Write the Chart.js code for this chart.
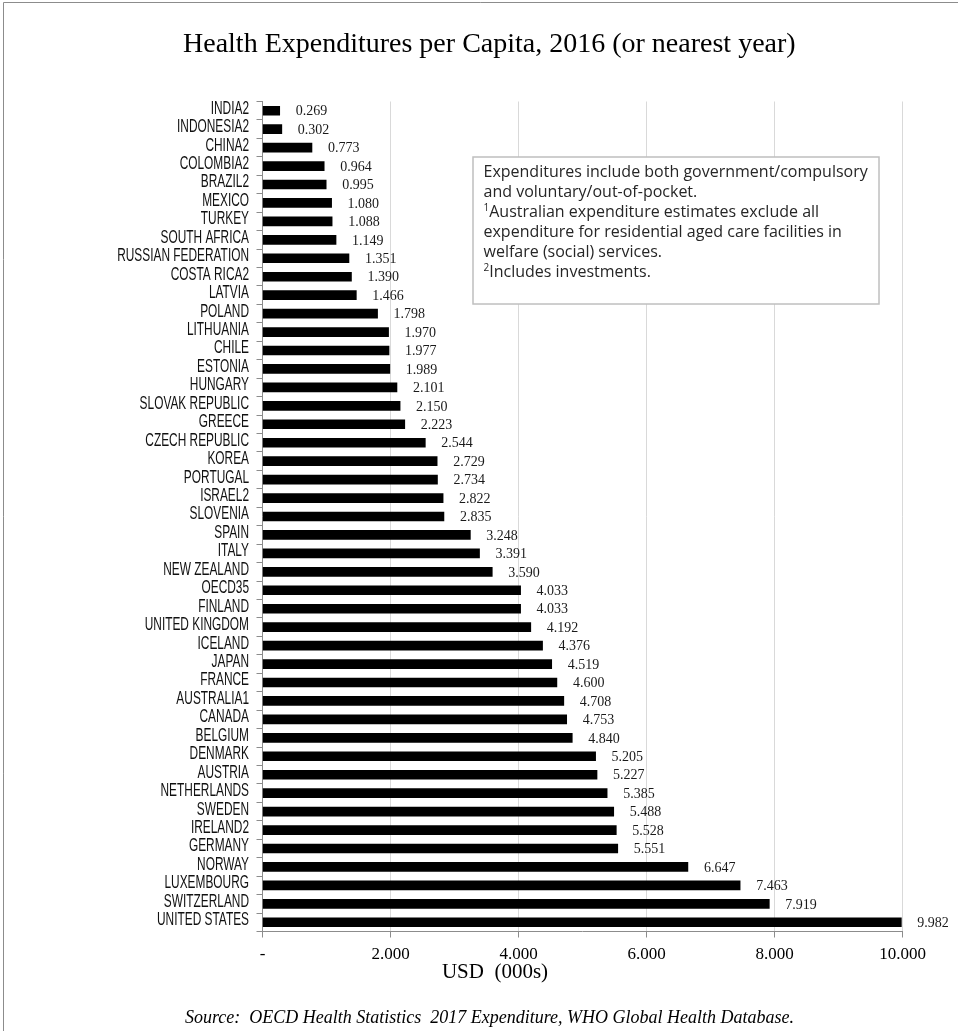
<!DOCTYPE html>
<html>
<head>
<meta charset="utf-8">
<title>Health Expenditures per Capita, 2016</title>
<script src="https://cdn.jsdelivr.net/npm/chart.js@4.4.1/dist/chart.umd.min.js"></script>
<style>
  html, body { margin: 0; padding: 0; background: #fff; }
  #wrap { width: 958px; height: 1031px; position: relative; }
</style>
</head>
<body>
<div id="wrap"><canvas id="myChart" width="958" height="1031"></canvas></div>
<script>
// countries, top to bottom
var countries = [
    "INDIA2", "INDONESIA2", "CHINA2", "COLOMBIA2", "BRAZIL2", "MEXICO", "TURKEY",
    "SOUTH AFRICA", "RUSSIAN FEDERATION", "COSTA RICA2", "LATVIA", "POLAND",
    "LITHUANIA", "CHILE", "ESTONIA", "HUNGARY", "SLOVAK REPUBLIC", "GREECE",
    "CZECH REPUBLIC", "KOREA", "PORTUGAL", "ISRAEL2", "SLOVENIA", "SPAIN", "ITALY",
    "NEW ZEALAND", "OECD35", "FINLAND", "UNITED KINGDOM", "ICELAND", "JAPAN",
    "FRANCE", "AUSTRALIA1", "CANADA", "BELGIUM", "DENMARK", "AUSTRIA",
    "NETHERLANDS", "SWEDEN", "IRELAND2", "GERMANY", "NORWAY", "LUXEMBOURG",
    "SWITZERLAND", "UNITED STATES"
];

// USD (000s) per capita
var spending = [
    0.269, 0.302, 0.773, 0.964, 0.995, 1.080, 1.088,
    1.149, 1.351, 1.390, 1.466, 1.798,
    1.970, 1.977, 1.989, 2.101, 2.150, 2.223,
    2.544, 2.729, 2.734, 2.822, 2.835, 3.248, 3.391,
    3.590, 4.033, 4.033, 4.192, 4.376, 4.519,
    4.600, 4.708, 4.753, 4.840, 5.205, 5.227,
    5.385, 5.488, 5.528, 5.551, 6.647, 7.463,
    7.919, 9.982
];

var xTicks = [0, 2, 4, 6, 8, 10];

var chartTitle = "Health Expenditures per Capita, 2016 (or nearest year)";
var axisTitle = "USD  (000s)";
var sourceText = "Source:  OECD Health Statistics  2017 Expenditure, WHO Global Health Database.";
var noteLines = [
    ["", "Expenditures include both government/compulsory"],
    ["", "and voluntary/out-of-pocket."],
    ["1", "Australian expenditure estimates exclude all"],
    ["", "expenditure for residential aged care facilities in"],
    ["", "welfare (social) services."],
    ["2", "Includes investments."]
];

var serif = '"Liberation Serif", "Times New Roman", serif';

// frame, title, note box, axis title and source line
var decorations = {
    id: "decorations",
    beforeDraw: function(chart){
        var c = chart.ctx;
        c.save();
        c.fillStyle = "#fff";
        c.fillRect(0, 0, chart.width, chart.height);
        c.strokeStyle = "#8c8c8c";
        c.lineWidth = 1;
        c.beginPath();
        c.moveTo(3.5, chart.height);
        c.lineTo(3.5, 2.5);
        c.lineTo(chart.width, 2.5);
        c.stroke();
        c.restore();
    },
    afterDraw: function(chart){
        var c = chart.ctx;
        var y = chart.scales.y;
        c.save();

        // title
        c.fillStyle = "#000";
        c.textAlign = "left";
        c.textBaseline = "alphabetic";
        c.font = "28px " + serif;
        c.fillText(chartTitle, 183, 52);

        // country names, narrow face
        c.fillStyle = "#111";
        c.font = '18px "Liberation Sans", Arial, sans-serif';
        c.textAlign = "right";
        c.textBaseline = "middle";
        chart.data.labels.forEach(function(name, i){
            var py = y.getPixelForValue(i);
            c.save();
            c.translate(249, py - 2);
            c.scale(0.66, 1);
            c.fillText(name, 0, 0);
            c.restore();
        });

        // axis title
        c.fillStyle = "#000";
        c.textAlign = "center";
        c.font = "21px " + serif;
        c.fillText(axisTitle, 495, 972);

        // source
        c.textAlign = "left";
        c.font = "italic 18px " + serif;
        c.fillText(sourceText, 185, 1018);

        // note box
        c.strokeStyle = "#bfbfbf";
        c.lineWidth = 1.5;
        c.fillStyle = "#fff";
        c.fillRect(473, 157, 406, 147);
        c.strokeRect(473, 157, 406, 147);
        c.fillStyle = "#262626";
        c.textAlign = "left";
        c.textBaseline = "alphabetic";
        noteLines.forEach(function(line, i){
            var ly = 177 + i * 20;
            var lx = 483.5;
            if (line[0]) {
                c.font = '10px "Open Sans", sans-serif';
                c.fillText(line[0], lx, ly - 6);
                lx += c.measureText(line[0]).width;
            }
            c.font = '16px "Open Sans", sans-serif';
            c.fillText(line[1], lx, ly);
        });
        c.restore();
    }
};

// value printed to the right of every bar
var valueLabels = {
    id: "valueLabels",
    afterDatasetsDraw: function(chart){
        var c = chart.ctx;
        var meta = chart.getDatasetMeta(0);
        c.save();
        c.fillStyle = "#1a1a1a";
        c.font = "14px " + serif;
        c.textAlign = "left";
        c.textBaseline = "middle";
        meta.data.forEach(function(bar, i){
            c.fillText(spending[i].toFixed(3), bar.x + 16, bar.y + 1);
        });
        c.restore();
    }
};

var ctx = document.getElementById("myChart").getContext("2d");
var chart = new Chart(ctx, {
    type: "bar",
    data: {
        labels: countries,
        datasets: [{
            label: "USD (000s)",
            data: spending,
            backgroundColor: "#000",
            borderWidth: 0,
            barThickness: 9
        }]
    },
    options: {
        indexAxis: "y",
        responsive: false,
        animation: false,
        devicePixelRatio: 1,
        layout: {
            padding: { top: 101.5, right: 55.5, bottom: 0, left: 0 }
        },
        plugins: {
            legend: { display: false },
            title: { display: false },
            tooltip: { enabled: false }
        },
        scales: {
            x: {
                min: 0,
                max: 10,
                afterBuildTicks: function(scale){
                    scale.ticks = xTicks.map(function(v){ return { value: v }; });
                },
                afterFit: function(scale){ scale.height = 99.5; },
                grid: {
                    color: "#d9d9d9",
                    tickColor: "#8c8c8c",
                    tickLength: 6,
                    lineWidth: 1
                },
                border: { color: "#8c8c8c" },
                ticks: {
                    padding: 7,
                    color: "#000",
                    font: { family: serif, size: 17 },
                    callback: function(v){ return v === 0 ? "-" : v.toFixed(3); }
                }
            },
            y: {
                afterFit: function(scale){ scale.width = 262.5; },
                grid: {
                    drawOnChartArea: false,
                    color: "#8c8c8c",
                    tickLength: 6
                },
                border: { color: "#8c8c8c" },
                ticks: { display: false }
            }
        }
    },
    plugins: [decorations, valueLabels]
});
</script>
</body>
</html>
